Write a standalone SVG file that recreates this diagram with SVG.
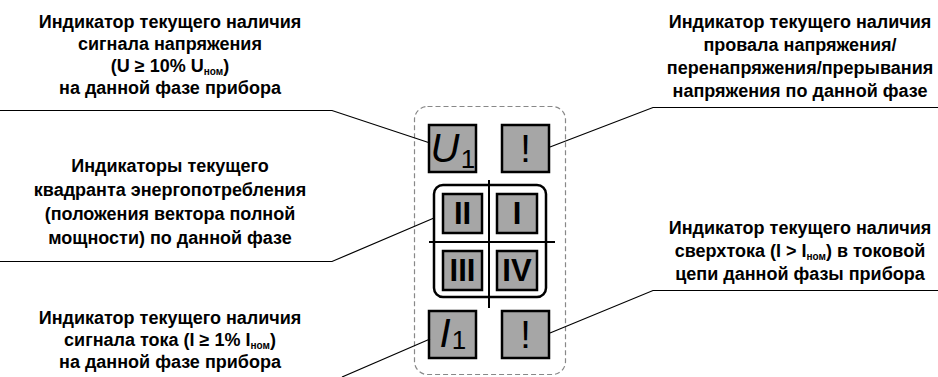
<svg xmlns="http://www.w3.org/2000/svg" width="938" height="377" viewBox="0 0 938 377">
<style>
.t{font-family:"Liberation Sans",Arial,sans-serif;font-weight:bold;font-size:18px;fill:#000;text-anchor:middle}
.s{font-size:10px}
.box{fill:#a6a6a6;stroke:#000;stroke-width:2.5}
.c{fill:none;stroke:#000;stroke-width:1.2}
.g{font-family:"Liberation Sans",Arial,sans-serif;fill:#000;text-anchor:middle}
.r{font-family:"Liberation Sans",Arial,sans-serif;fill:#000;text-anchor:middle;font-size:31px;font-weight:bold}
</style>
<rect width="938" height="377" fill="#fff"/>
<g id="panel">
<rect x="414.5" y="106.5" width="151" height="268" rx="13" fill="none" stroke="#888" stroke-width="1.2" stroke-dasharray="5,3"/>
</g>
<g id="quadrants">
<rect x="434" y="185" width="112" height="112" rx="9" fill="none" stroke="#000" stroke-width="2.5"/>
<line x1="489" y1="180" x2="489" y2="308" stroke="#000" stroke-width="2"/>
<line x1="429" y1="242" x2="555" y2="242" stroke="#000" stroke-width="2"/>
</g>
<g id="u1"><rect class="box" x="429" y="125" width="47" height="47"/><text class="g" x="445" y="162" font-size="40" font-style="italic">U</text><text class="g" x="468" y="168" font-size="26">1</text></g>
<g id="alarm-u"><rect class="box" x="502" y="125" width="47" height="47"/><text class="g" x="525.5" y="162" font-size="38">!</text></g>
<g id="q2"><rect class="box" x="443" y="194" width="39" height="39"/><text class="r" x="462.5" y="224">II</text></g>
<g id="q1"><rect class="box" x="497" y="194" width="40" height="39"/><text class="r" x="517" y="224">I</text></g>
<g id="q3"><rect class="box" x="443" y="251" width="39" height="39"/><text class="r" x="462.5" y="281">III</text></g>
<g id="q4"><rect class="box" x="497" y="251" width="40" height="39"/><text class="r" x="517" y="281">IV</text></g>
<g id="i1"><rect class="box" x="429" y="311" width="47" height="47"/><text class="g" x="445" y="347" font-size="40" font-style="italic">I</text><text class="g" x="459" y="349" font-size="26">1</text></g>
<g id="alarm-i"><rect class="box" x="502" y="311" width="47" height="47"/><text class="g" x="525.5" y="348" font-size="38">!</text></g>

<g id="connectors">
<polyline class="c" points="0,110.5 332,110.5 430,143"/>
<polyline class="c" points="938,107.5 653,107.5 550,147"/>
<polyline class="c" points="0,261.5 332,261.5 434,218"/>
<polyline class="c" points="938,290.5 653,290.5 550,333"/>
<polyline class="c" points="342,377 430,339"/>
</g>

<g id="label-u">
<text class="t" x="170" y="28">Индикатор текущего наличия</text>
<text class="t" x="170" y="50">сигнала напряжения</text>
<text class="t" x="170" y="72">(U ≥ 10% U<tspan class="s" dy="3">ном</tspan><tspan dy="-3">)</tspan></text>
<text class="t" x="170" y="94">на данной фазе прибора</text>
</g>
<g id="label-alarm-u">
<text class="t" x="800" y="28">Индикатор текущего наличия</text>
<text class="t" x="800" y="51">провала напряжения/</text>
<text class="t" x="800" y="74">перенапряжения/прерывания</text>
<text class="t" x="800" y="97">напряжения по данной фазе</text>
</g>
<g id="label-q">
<text class="t" x="170" y="172">Индикаторы текущего</text>
<text class="t" x="170" y="196">квадранта энергопотребления</text>
<text class="t" x="170" y="220">(положения вектора полной</text>
<text class="t" x="170" y="244">мощности) по данной фазе</text>
</g>
<g id="label-alarm-i">
<text class="t" x="800" y="234">Индикатор текущего наличия</text>
<text class="t" x="800" y="257">сверхтока (I &gt; I<tspan class="s" dy="3">ном</tspan><tspan dy="-3">) в токовой</tspan></text>
<text class="t" x="800" y="280">цепи данной фазы прибора</text>
</g>
<g id="label-i">
<text class="t" x="170" y="324">Индикатор текущего наличия</text>
<text class="t" x="170" y="346">сигнала тока (I ≥ 1% I<tspan class="s" dy="3">ном</tspan><tspan dy="-3">)</tspan></text>
<text class="t" x="170" y="368">на данной фазе прибора</text>
</g>
</svg>
